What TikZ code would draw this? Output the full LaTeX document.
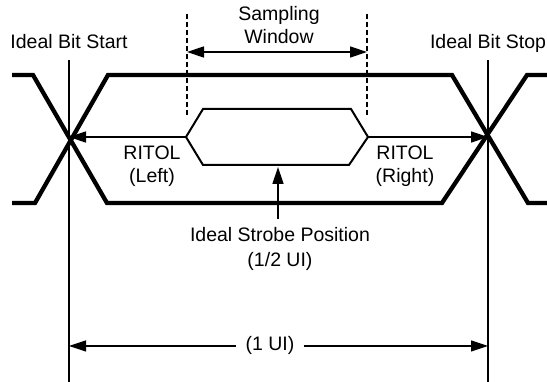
\documentclass[tikz,border=0pt]{standalone}
\usepackage{fontspec}
\setmainfont{Liberation Sans}
\usetikzlibrary{arrows.meta}
\tikzset{
  lbl/.style={font=\fontsize{19.5}{23}\selectfont, inner sep=0pt, anchor=base},
  sig/.style={line width=4.3pt, line join=miter},
  guide/.style={line width=1.4pt},
  dim/.style={line width=1.4pt, -{Triangle[length=17pt,width=11pt]}},
  dimboth/.style={line width=1.4pt, {Triangle[length=17pt,width=11pt]}-{Triangle[length=17pt,width=11pt]}},
  win/.style={line width=1.4pt, dash pattern=on 5pt off 3pt}
}
\begin{document}
\begin{tikzpicture}[x=1pt,y=-1pt]
\useasboundingbox (0,0) rectangle (547,382);
\coordinate (xl) at (69,137);
\coordinate (xr) at (488,137);
\coordinate (hl) at (186,137);
\coordinate (hr) at (368,137);
\coordinate (sb) at (278,167);
\node[lbl] (start) at (69,49) {Ideal Bit Start};
\node[lbl] (stop) at (488,49) {Ideal Bit Stop};
\node[lbl] (samp) at (279,21) {Sampling};
\node[lbl] (wind) at (279,44) {Window};
\node[lbl] (ritl) at (152,160) {RITOL};
\node[lbl] (ritlb) at (152,183) {(Left)};
\node[lbl] (ritr) at (405,160) {RITOL};
\node[lbl] (ritrb) at (405,183) {(Right)};
\node[lbl] (strobe) at (280,242) {Ideal Strobe Position};
\node[lbl] (half) at (280,267) {(1/2 UI)};
\node[lbl, inner xsep=9pt] (ui) at (270,351) {(1 UI)};
\draw[sig] (12,75) -- (33,75) -- (107,203) -- (442,203) -- (527,75) -- (547,75);
\draw[sig] (12,203) -- (35,203) -- (108,75) -- (452,75) -- (528,203) -- (547,203);
\draw[line width=2pt] (hl) -- (203,109) -- (351,109) -- (hr) -- (349,165) -- (203,165) -- cycle;
\draw[guide] (69,60) -- (69,382);
\draw[guide] (488,60) -- (488,382);
\draw[win] (187,14) -- (187,117);
\draw[win] (367,14) -- (367,117);
\draw[dimboth] (187,52) -- (367,52);
\draw[dim] (hl) -- (xl);
\draw[dim] (hr) -- (xr);
\draw[dim] ([yshift=9pt]strobe.north -| sb) -- (sb);
\draw[dim] (ui.west) -- (ui.west -| xl);
\draw[dim] (ui.east) -- (ui.east -| xr);
\end{tikzpicture}
\end{document}
